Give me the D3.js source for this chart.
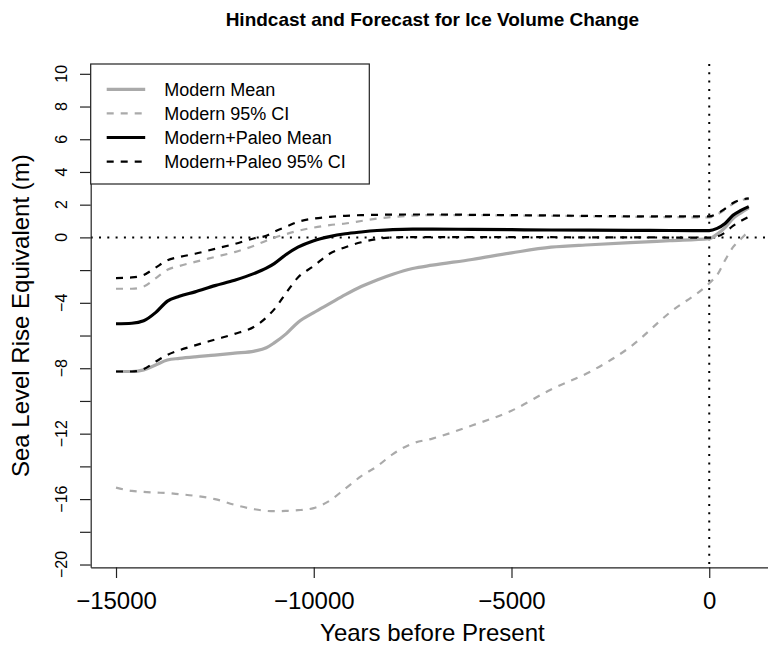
<!DOCTYPE html>
<html>
<head>
<meta charset="utf-8">
<script src="https://cdn.jsdelivr.net/npm/d3@7"></script>
<style>
  body { margin: 0; background: #fff; }
  svg { display: block; font-family: "Liberation Sans", Arial, Helvetica, sans-serif; }
</style>
</head>
<body>
<div id="chart"></div>
<script>
// ---- data (years before present, metres SLE) ----
var years       = [-15000, -14600, -14300, -14000, -13700, -13400, -13000, -12500, -12000, -11500,
                   -11200, -11000, -10700, -10400, -10000, -9600, -9200, -8800, -8400, -8000,
                   -7500, -7000, -6000, -5000, -4000, -3000, -2000, -1000, 0, 200, 400, 600, 800, 1000];
var modernMean  = [-8.2, -8.2, -8.1, -7.8, -7.5, -7.4, -7.3, -7.2, -7.08, -6.95,
                   -6.75, -6.45, -5.9, -5.2, -4.6, -4.05, -3.5, -3.0, -2.6, -2.25,
                   -1.9, -1.7, -1.35, -0.95, -0.6, -0.45, -0.32, -0.2, -0.08, 0.2, 0.6, 1.15, 1.5, 1.8];
var modernHi    = [-3.14, -3.14, -3.0, -2.5, -1.98, -1.75, -1.5, -1.2, -0.9, -0.5,
                   -0.2, -0.02, 0.2, 0.4, 0.6, 0.75, 0.85, 1.0, 1.15, 1.25,
                   1.33, 1.36, 1.36, 1.34, 1.32, 1.29, 1.26, 1.24, 1.22, 1.4, 1.7, 2.05, 2.27, 2.35];
var modernLo    = [-15.3, -15.5, -15.56, -15.6, -15.63, -15.7, -15.8, -16.0, -16.35, -16.62,
                   -16.72, -16.74, -16.72, -16.68, -16.55, -16.1, -15.35, -14.6, -14.0, -13.25,
                   -12.6, -12.3, -11.5, -10.6, -9.3, -8.2, -6.7, -4.6, -2.8, -2.3, -1.4, -0.6, -0.1, 0.4];
var paleoMean   = [-5.28, -5.25, -5.1, -4.6, -3.9, -3.6, -3.33, -2.95, -2.62, -2.2,
                   -1.88, -1.6, -1.05, -0.6, -0.2, 0.05, 0.22, 0.33, 0.42, 0.48,
                   0.51, 0.51, 0.49, 0.47, 0.45, 0.44, 0.43, 0.42, 0.41, 0.55, 0.85, 1.35, 1.65, 1.88];
var paleoHi     = [-2.49, -2.45, -2.3, -1.85, -1.4, -1.2, -1.0, -0.7, -0.4, -0.05,
                   0.1, 0.35, 0.65, 0.95, 1.15, 1.25, 1.32, 1.36, 1.38, 1.39,
                   1.4, 1.4, 1.38, 1.36, 1.34, 1.31, 1.29, 1.28, 1.28, 1.45, 1.75, 2.1, 2.3, 2.38];
var paleoLo     = [-8.2, -8.2, -8.05, -7.6, -7.18, -6.9, -6.6, -6.25, -5.9, -5.45,
                   -4.9, -4.4, -3.4, -2.45, -1.75, -1.0, -0.6, -0.3, -0.1, 0.0,
                   0.02, 0.02, 0.02, 0.01, 0.01, 0.0, 0.0, -0.01, -0.02, 0.05, 0.3, 0.7, 1.0, 1.25];

var xTicks      = [-15000, -10000, -5000, 0];
var yTicks      = [10, 8, 6, 4, 2, 0, -2, -4, -6, -8, -10, -12, -14, -16, -18, -20];
var yLabelTicks = [10, 8, 6, 4, 2, 0, -4, -8, -12, -16, -20];
var legendNames = ["Modern Mean", "Modern 95% CI", "Modern+Paleo Mean", "Modern+Paleo 95% CI"];

var titleText = "Hindcast and Forecast for Ice Volume Change";
var xLabel = "Years before Present";
var yLabel = "Sea Level Rise Equivalent (m)";

// ---- layout ----
var margin = { top: 64, left: 90.7, bottom: 81.7 },
    W = 768, H = 649,
    width = 683.4,                     // plot region runs past the right edge, as in the original
    height = H - margin.top - margin.bottom;

var grey = "#aaaaaa";

var svg = d3.select("#chart").append("svg")
    .attr("width", W).attr("height", H);

svg.append("defs").append("clipPath").attr("id", "plot-clip")
  .append("rect").attr("width", width).attr("height", height);

var g = svg.append("g").attr("transform", "translate(" + margin.left + "," + margin.top + ")");

var xScale = d3.scaleLinear().domain([-15640, 1640]).range([0, width]);
var yScale = d3.scaleLinear().domain([-20.17, 10.6]).range([height, 0]);

// reference lines (abline h=0, v=0, dotted)
var plot = g.append("g").attr("clip-path", "url(#plot-clip)");
plot.append("line")
    .attr("x1", 0).attr("x2", width)
    .attr("y1", yScale(0)).attr("y2", yScale(0))
    .attr("stroke", "#000").attr("stroke-width", 2).attr("stroke-dasharray", "2,6.3");
plot.append("line")
    .attr("x1", xScale(0)).attr("x2", xScale(0))
    .attr("y1", 0).attr("y2", height)
    .attr("stroke", "#000").attr("stroke-width", 2).attr("stroke-dasharray", "2,6.3");

// series
var series = [
  { values: modernLo,   color: grey,   w: 2.2, dash: "7,7" },
  { values: modernHi,   color: grey,   w: 2.2, dash: "7,7" },
  { values: modernMean, color: grey,   w: 3.2, dash: null },
  { values: paleoLo,    color: "#000", w: 2.2, dash: "7,7" },
  { values: paleoHi,    color: "#000", w: 2.2, dash: "7,7" },
  { values: paleoMean,  color: "#000", w: 3.2, dash: null }
];

var line = d3.line()
    .x(function(d, i) { return xScale(years[i]); })
    .y(function(d) { return yScale(d); })
    .curve(d3.curveMonotoneX);

series.forEach(function(s) {
  plot.append("path")
      .datum(s.values)
      .attr("fill", "none")
      .attr("stroke", s.color)
      .attr("stroke-width", s.w)
      .attr("stroke-dasharray", s.dash)
      .attr("d", line);
});

// axes (bty = "l": the domain paths form the L-shaped box)
var yAxis = g.append("g")
    .call(d3.axisLeft(yScale).tickValues(yTicks).tickSize(10.7).tickSizeOuter(0).tickFormat(""));
yAxis.selectAll("path, line").attr("stroke", "#222").attr("stroke-width", 1.2);

yAxis.selectAll(".ylab")
    .data(yLabelTicks)
  .enter().append("text")
    .attr("class", "ylab")
    .attr("transform", function(d) { return "translate(-24," + yScale(d) + ") rotate(-90)"; })
    .attr("text-anchor", "middle")
    .attr("fill", "#000")
    .style("font-size", "16px")
    .text(function(d) { return d3.format("d")(d); });

var xAxis = g.append("g")
    .attr("transform", "translate(0," + height + ")")
    .call(d3.axisBottom(xScale).tickValues(xTicks).tickSize(10.7).tickSizeOuter(0).tickPadding(14)
            .tickFormat(d3.format("d")));
xAxis.selectAll("path, line").attr("stroke", "#222").attr("stroke-width", 1.2);
xAxis.selectAll("text").attr("fill", "#000").style("font-size", "24px").attr("font-family", null);

// legend (topleft, white box)
var legend = g.append("g");
legend.append("rect")
    .attr("width", 278.6).attr("height", 120)
    .attr("fill", "#fff").attr("stroke", "#222").attr("stroke-width", 1.2);

var legendStyle = [
  { color: grey,   w: 3.2, dash: null },
  { color: grey,   w: 2.2, dash: "7,7" },
  { color: "#000", w: 3.2, dash: null },
  { color: "#000", w: 2.2, dash: "7,7" }
];

legendNames.forEach(function(name, i) {
  var ry = 25.3 + i * 24.1;
  legend.append("line")
      .attr("x1", 16).attr("x2", 54.5)
      .attr("y1", ry).attr("y2", ry)
      .attr("stroke", legendStyle[i].color)
      .attr("stroke-width", legendStyle[i].w)
      .attr("stroke-dasharray", legendStyle[i].dash);
  legend.append("text")
      .attr("x", 73.5).attr("y", ry + 6.3)
      .style("font-size", "18px")
      .text(name);
});

// titles
svg.append("text")
    .attr("x", margin.left + width / 2).attr("y", 26)
    .attr("text-anchor", "middle")
    .style("font-size", "19px").style("font-weight", "bold")
    .text(titleText);

svg.append("text")
    .attr("x", margin.left + width / 2).attr("y", 641)
    .attr("text-anchor", "middle")
    .style("font-size", "24px")
    .text(xLabel);

svg.append("text")
    .attr("transform", "translate(29," + (margin.top + height / 2) + ") rotate(-90)")
    .attr("text-anchor", "middle")
    .style("font-size", "24px")
    .text(yLabel);
</script>
</body>
</html>
